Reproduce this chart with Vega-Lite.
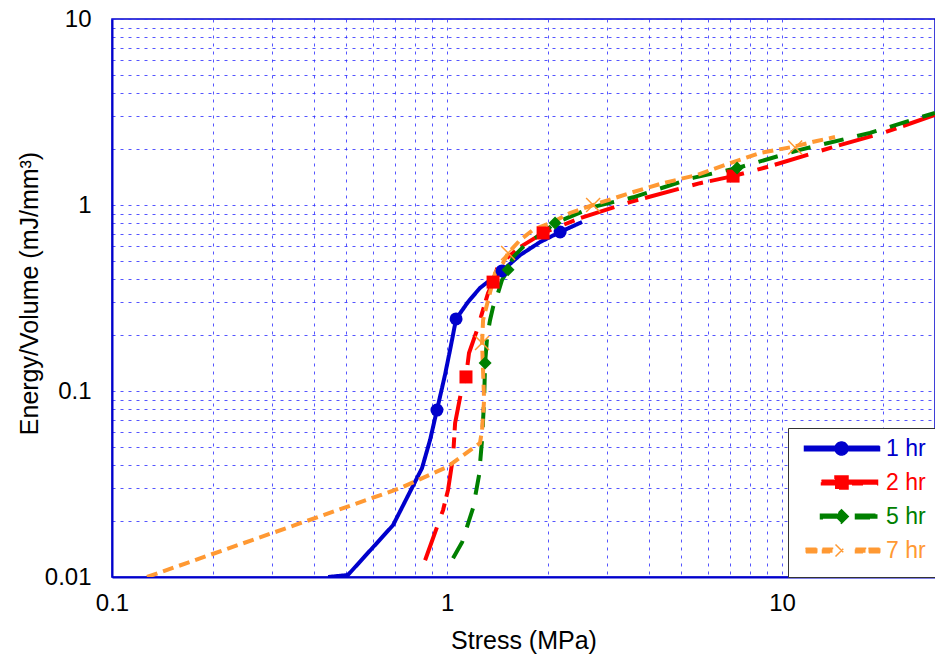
{
 "$schema": "https://vega.github.io/schema/vega-lite/v6.json",
 "width": 823,
 "height": 558,
 "autosize": {"type": "none"},
 "padding": {"left": 112, "top": 19, "right": 0, "bottom": 82},
 "background": "white",
 "config": {
  "font": "Liberation Sans",
  "view": {"stroke": "#0000cc", "strokeWidth": 1.5},
  "axis": {
   "labelFont": "Liberation Sans", "titleFont": "Liberation Sans",
   "labelColor": "#000000", "titleColor": "#000000", "titleFontWeight": "normal",
   "labelFontSize": 24, "titleFontSize": 25,
   "domainColor": "#0000cc", "domainWidth": 2, "ticks": false,
   "gridColor": "#2a2aff", "gridDash": [3, 5], "gridWidth": 1, "gridOpacity": 0.8,
   "labelFlush": false, "labelOverlap": false, "labelBound": false
  }
 },
 "datasets": {
  "curves": [
   {"series": "1 hr", "i": 0, "x": 0.4416, "y": 0.01},
   {"series": "1 hr", "i": 1, "x": 0.506, "y": 0.01025},
   {"series": "1 hr", "i": 2, "x": 0.69, "y": 0.019},
   {"series": "1 hr", "i": 3, "x": 0.842, "y": 0.0385},
   {"series": "1 hr", "i": 4, "x": 0.89, "y": 0.0546},
   {"series": "1 hr", "i": 5, "x": 0.933, "y": 0.079},
   {"series": "1 hr", "i": 6, "x": 0.986, "y": 0.122},
   {"series": "1 hr", "i": 7, "x": 1.028, "y": 0.177},
   {"series": "1 hr", "i": 8, "x": 1.064, "y": 0.244},
   {"series": "1 hr", "i": 9, "x": 1.155, "y": 0.301},
   {"series": "1 hr", "i": 10, "x": 1.254, "y": 0.358},
   {"series": "1 hr", "i": 11, "x": 1.459, "y": 0.442},
   {"series": "1 hr", "i": 12, "x": 1.652, "y": 0.538},
   {"series": "1 hr", "i": 13, "x": 1.895, "y": 0.632},
   {"series": "1 hr", "i": 14, "x": 2.175, "y": 0.716},
   {"series": "1 hr", "i": 15, "x": 2.529, "y": 0.81},

   {"series": "2 hr", "i": 0, "x": 0.86, "y": 0.0123},
   {"series": "2 hr", "i": 1, "x": 0.973, "y": 0.0229},
   {"series": "2 hr", "i": 2, "x": 1.007, "y": 0.0294},
   {"series": "2 hr", "i": 3, "x": 1.042, "y": 0.0442},
   {"series": "2 hr", "i": 4, "x": 1.057, "y": 0.0673},
   {"series": "2 hr", "i": 5, "x": 1.109, "y": 0.105},
   {"series": "2 hr", "i": 6, "x": 1.139, "y": 0.119},
   {"series": "2 hr", "i": 7, "x": 1.163, "y": 0.16},
   {"series": "2 hr", "i": 8, "x": 1.229, "y": 0.213},
   {"series": "2 hr", "i": 9, "x": 1.272, "y": 0.262},
   {"series": "2 hr", "i": 10, "x": 1.326, "y": 0.337},
   {"series": "2 hr", "i": 11, "x": 1.372, "y": 0.385},
   {"series": "2 hr", "i": 12, "x": 1.42, "y": 0.476},
   {"series": "2 hr", "i": 13, "x": 1.51, "y": 0.519},
   {"series": "2 hr", "i": 14, "x": 1.652, "y": 0.594},
   {"series": "2 hr", "i": 15, "x": 1.935, "y": 0.707},
   {"series": "2 hr", "i": 16, "x": 2.5, "y": 0.851},
   {"series": "2 hr", "i": 17, "x": 3.518, "y": 1.038},
   {"series": "2 hr", "i": 18, "x": 5.69, "y": 1.31},
   {"series": "2 hr", "i": 19, "x": 7.14, "y": 1.43},
   {"series": "2 hr", "i": 20, "x": 9.02, "y": 1.6},
   {"series": "2 hr", "i": 21, "x": 14.2, "y": 2.05},
   {"series": "2 hr", "i": 22, "x": 20.0, "y": 2.44},
   {"series": "2 hr", "i": 23, "x": 28.6, "y": 3.05},

   {"series": "5 hr", "i": 0, "x": 1.042, "y": 0.0126},
   {"series": "5 hr", "i": 1, "x": 1.109, "y": 0.0154},
   {"series": "5 hr", "i": 2, "x": 1.196, "y": 0.0235},
   {"series": "5 hr", "i": 3, "x": 1.246, "y": 0.0353},
   {"series": "5 hr", "i": 4, "x": 1.272, "y": 0.0546},
   {"series": "5 hr", "i": 5, "x": 1.29, "y": 0.0895},
   {"series": "5 hr", "i": 6, "x": 1.299, "y": 0.1416},
   {"series": "5 hr", "i": 7, "x": 1.317, "y": 0.195},
   {"series": "5 hr", "i": 8, "x": 1.344, "y": 0.241},
   {"series": "5 hr", "i": 9, "x": 1.372, "y": 0.283},
   {"series": "5 hr", "i": 10, "x": 1.42, "y": 0.337},
   {"series": "5 hr", "i": 11, "x": 1.459, "y": 0.395},
   {"series": "5 hr", "i": 12, "x": 1.521, "y": 0.448},
   {"series": "5 hr", "i": 13, "x": 1.574, "y": 0.525},
   {"series": "5 hr", "i": 14, "x": 1.733, "y": 0.625},
   {"series": "5 hr", "i": 15, "x": 1.895, "y": 0.69},
   {"series": "5 hr", "i": 16, "x": 2.101, "y": 0.8},
   {"series": "5 hr", "i": 17, "x": 2.729, "y": 0.976},
   {"series": "5 hr", "i": 18, "x": 3.592, "y": 1.1},
   {"series": "5 hr", "i": 19, "x": 5.42, "y": 1.4},
   {"series": "5 hr", "i": 20, "x": 7.34, "y": 1.58},
   {"series": "5 hr", "i": 21, "x": 11.31, "y": 1.98},
   {"series": "5 hr", "i": 22, "x": 18.3, "y": 2.44},
   {"series": "5 hr", "i": 23, "x": 28.6, "y": 3.13},

   {"series": "7 hr", "i": 0, "x": 0.1272, "y": 0.01},
   {"series": "7 hr", "i": 1, "x": 0.724, "y": 0.03},
   {"series": "7 hr", "i": 2, "x": 1.0, "y": 0.039},
   {"series": "7 hr", "i": 3, "x": 1.254, "y": 0.0525},
   {"series": "7 hr", "i": 4, "x": 1.272, "y": 0.0617},
   {"series": "7 hr", "i": 5, "x": 1.29, "y": 0.0895},
   {"series": "7 hr", "i": 6, "x": 1.272, "y": 0.181},
   {"series": "7 hr", "i": 7, "x": 1.281, "y": 0.241},
   {"series": "7 hr", "i": 8, "x": 1.326, "y": 0.308},
   {"series": "7 hr", "i": 9, "x": 1.391, "y": 0.431},
   {"series": "7 hr", "i": 10, "x": 1.47, "y": 0.488},
   {"series": "7 hr", "i": 11, "x": 1.521, "y": 0.552},
   {"series": "7 hr", "i": 12, "x": 1.652, "y": 0.648},
   {"series": "7 hr", "i": 13, "x": 1.806, "y": 0.735},
   {"series": "7 hr", "i": 14, "x": 2.072, "y": 0.81},
   {"series": "7 hr", "i": 15, "x": 2.329, "y": 0.906},
   {"series": "7 hr", "i": 16, "x": 2.729, "y": 1.0},
   {"series": "7 hr", "i": 17, "x": 3.518, "y": 1.16},
   {"series": "7 hr", "i": 18, "x": 4.41, "y": 1.31},
   {"series": "7 hr", "i": 19, "x": 5.57, "y": 1.45},
   {"series": "7 hr", "i": 20, "x": 7.0, "y": 1.68},
   {"series": "7 hr", "i": 21, "x": 8.66, "y": 1.91},
   {"series": "7 hr", "i": 22, "x": 10.7, "y": 2.05},
   {"series": "7 hr", "i": 23, "x": 12.7, "y": 2.21},
   {"series": "7 hr", "i": 24, "x": 14.39, "y": 2.32}
  ],
  "markers": [
   {"series": "1 hr", "x": 0.933, "y": 0.079},
   {"series": "1 hr", "x": 1.064, "y": 0.244},
   {"series": "1 hr", "x": 1.459, "y": 0.442},
   {"series": "1 hr", "x": 2.175, "y": 0.716},
   {"series": "2 hr", "x": 1.139, "y": 0.119},
   {"series": "2 hr", "x": 1.372, "y": 0.385},
   {"series": "2 hr", "x": 1.935, "y": 0.707},
   {"series": "2 hr", "x": 7.14, "y": 1.43},
   {"series": "5 hr", "x": 1.299, "y": 0.1416},
   {"series": "5 hr", "x": 1.521, "y": 0.448},
   {"series": "5 hr", "x": 2.101, "y": 0.8},
   {"series": "5 hr", "x": 7.34, "y": 1.58},
   {"series": "7 hr", "x": 1.272, "y": 0.181},
   {"series": "7 hr", "x": 1.521, "y": 0.552},
   {"series": "7 hr", "x": 2.729, "y": 1.0},
   {"series": "7 hr", "x": 10.94, "y": 2.04}
  ]
 },
 "layer": [
  {
   "data": {"name": "curves"},
   "mark": {"type": "line", "strokeWidth": 4, "clip": true},
   "encoding": {
    "x": {
     "field": "x", "type": "quantitative",
     "scale": {"type": "log", "domain": [0.1, 28.6], "nice": false},
     "axis": {
      "title": "Stress (MPa)",
      "values": [0.1, 0.2, 0.3, 0.4, 0.5, 0.6, 0.7, 0.8, 0.9, 1, 2, 3, 4, 5, 6, 7, 8, 9, 10, 20],
      "format": "~g",
      "labelExpr": "abs(log(datum.value)/LN10 - round(log(datum.value)/LN10)) < 0.001 ? datum.label : ''",
      "grid": true, "labelPadding": 14,
      "titleY": 71, "titleBaseline": "alphabetic"
     }
    },
    "y": {
     "field": "y", "type": "quantitative",
     "scale": {"type": "log", "domain": [0.01, 10], "nice": false},
     "axis": {
      "title": "Energy/Volume (mJ/mm³)",
      "values": [0.01, 0.02, 0.03, 0.04, 0.05, 0.06, 0.07, 0.08, 0.09, 0.1, 0.2, 0.3, 0.4, 0.5, 0.6, 0.7, 0.8, 0.9, 1, 2, 3, 4, 5, 6, 7, 8, 9, 10],
      "format": "~g",
      "labelExpr": "abs(log(datum.value)/LN10 - round(log(datum.value)/LN10)) < 0.001 ? datum.label : ''",
      "grid": true, "labelPadding": 21,
      "titleX": -75, "titleY": 274, "titleBaseline": "alphabetic", "titleAngle": 270
     }
    },
    "color": {
     "field": "series", "type": "nominal",
     "scale": {"domain": ["1 hr", "2 hr", "5 hr", "7 hr"], "range": ["#0000cc", "#ff0000", "#008000", "#ff9933"]},
     "legend": {
      "title": null, "orient": "bottom-right", "offset": 0,
      "fillColor": "white", "strokeColor": "#333333", "padding": 9,
      "labelFont": "Liberation Sans", "labelFontSize": 23,
      "symbolOffset": 33, "labelOffset": 33,
      "rowPadding": -1, "symbolSize": 100, "symbolStrokeWidth": 1.5,
      "encode": {
       "symbols": {"update": {
        "shape": {"signal": "datum.value === '1 hr' ? 'M0,-2.8M0,2.8M-7.4,-0.45H7.6V0.45H-7.4ZM1.3,0A1.3,1.3,0,1,1,-1.3,0A1.3,1.3,0,1,1,1.3,0Z' : datum.value === '2 hr' ? 'M0,-2.8M0,2.8M-4,-0.45H-1.2V0.45H-4ZM1.2,-0.45H7.2V0.45H1.2ZM-1.3,-1.3H1.3V1.3H-1.3Z' : datum.value === '5 hr' ? 'M0,-2.8M0,2.8M-4.2,-0.45H-1V0.45H-4.2ZM2.8,-0.45H7.2V0.45H2.8ZM0,-1.35L1.35,0L0,1.35L-1.35,0Z' : 'M0,-2.8M0,2.8M-7.2,-0.45H-4.8V0.45H-7.2ZM-3.8,-0.45H-1.8V0.45H-3.8ZM2.8,-0.45H4.8V0.45H2.8ZM5.4,-0.45H7.8V0.45H5.4ZM-1.2,-1.2L1.2,1.2M-1.2,1.2L1.2,-1.2'"},
        "size": {"value": 100},
        "fill": {"scale": "color", "field": "value"},
        "stroke": {"scale": "color", "field": "value"},
        "strokeWidth": {"value": 1.5},
        "strokeDash": {"value": [1, 0]},
        "opacity": {"value": 1}
       }},
       "labels": {"update": {"fill": {"scale": "color", "field": "value"}}}
      }
     }
    },
    "strokeDash": {
     "field": "series", "type": "nominal",
     "scale": {"domain": ["1 hr", "2 hr", "5 hr", "7 hr"], "range": [[1, 0], [35, 14, 11, 7], [20, 14], [11, 6]]},
     "legend": null
    },
    "order": {"field": "i", "type": "quantitative"}
   }
  },
  {
   "data": {"name": "markers"},
   "transform": [{"filter": "datum.series !== '7 hr'"}],
   "mark": {"type": "point", "filled": true, "opacity": 1, "size": 169, "clip": true},
   "encoding": {
    "x": {"field": "x", "type": "quantitative"},
    "y": {"field": "y", "type": "quantitative"},
    "color": {"field": "series", "type": "nominal", "legend": null},
    "shape": {
     "field": "series", "type": "nominal",
     "scale": {"domain": ["1 hr", "2 hr", "5 hr"], "range": ["circle", "square", "diamond"]},
     "legend": null
    }
   }
  },
  {
   "data": {"name": "markers"},
   "transform": [{"filter": "datum.series === '7 hr'"}],
   "mark": {"type": "point", "filled": false, "opacity": 1, "size": 196, "strokeWidth": 1.5, "shape": "M-1,-1L1,1M-1,1L1,-1", "clip": true},
   "encoding": {
    "x": {"field": "x", "type": "quantitative"},
    "y": {"field": "y", "type": "quantitative"},
    "color": {"field": "series", "type": "nominal", "legend": null}
   }
  }
 ]
}
